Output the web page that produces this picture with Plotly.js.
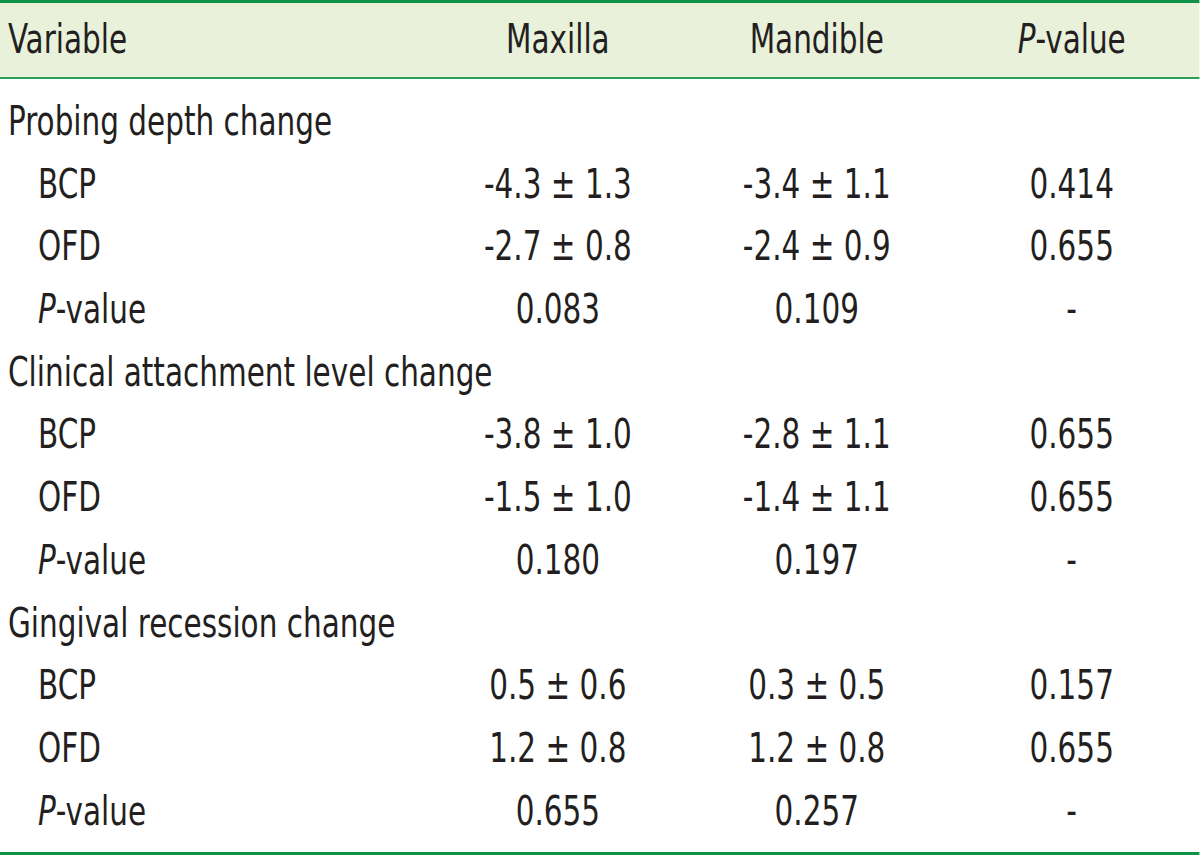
<!DOCTYPE html>
<html>
<head>
<meta charset="utf-8">
<script src="https://cdn.plot.ly/plotly-3.0.1.min.js"></script>
<style>
  html, body { margin: 0; padding: 0; background: #ffffff; overflow: hidden; }
  /* no narrow font installed: draw wider and squeeze horizontally */
  #table { width: 1463px; height: 856px; transform: scaleX(0.82); transform-origin: 0 0; }
</style>
</head>
<body>
<div id="table"></div>
<script>
const columnHeaders = ["Variable", "Maxilla", "Mandible", "<i>P</i>-value"];
const groupLabels = [
  "Probing depth change",
  "Clinical attachment level change",
  "Gingival recession change",
];
const subLabels = ["BCP", "OFD", "<i>P</i>-value"];
const maxillaValues = [
  ["-4.3 ± 1.3", "-2.7 ± 0.8", "0.083"],
  ["-3.8 ± 1.0", "-1.5 ± 1.0", "0.180"],
  ["0.5 ± 0.6", "1.2 ± 0.8", "0.655"],
];
const mandibleValues = [
  ["-3.4 ± 1.1", "-2.4 ± 0.9", "0.109"],
  ["-2.8 ± 1.1", "-1.4 ± 1.1", "0.197"],
  ["0.3 ± 0.5", "1.2 ± 0.8", "0.257"],
];
const pValues = [
  ["0.414", "0.655", "-"],
  ["0.655", "0.655", "-"],
  ["0.157", "0.655", "-"],
];

const FONT = "'Liberation Sans Narrow', 'Arial Narrow', 'DejaVu Sans Condensed', sans-serif";
const TEXT_COLOR = "#231f20";
const FONT_SIZE = 40;

// layout geometry (pixels of the final picture)
const HEADER_Y = 43;
const FIRST_ROW_Y = 125;
const ROW_STEP = 62.7;
const COL_X = { group: 8, sub: 38, maxilla: 558, mandible: 817, p: 1072 };

function rowY(index) {
  return FIRST_ROW_Y + index * ROW_STEP;
}

const labelX = [];
const labelY = [];
const labelText = [];
const cellX = [];
const cellY = [];
const cellText = [];

let row = 0;
groupLabels.forEach((group, g) => {
  labelX.push(COL_X.group);
  labelY.push(rowY(row));
  labelText.push(group);
  row += 1;
  subLabels.forEach((sub, s) => {
    labelX.push(COL_X.sub);
    labelY.push(rowY(row));
    labelText.push(sub);
    [
      [COL_X.maxilla, maxillaValues[g][s]],
      [COL_X.mandible, mandibleValues[g][s]],
      [COL_X.p, pValues[g][s]],
    ].forEach(([x, text]) => {
      cellX.push(x);
      cellY.push(rowY(row));
      cellText.push(text);
    });
    row += 1;
  });
});

const headerTrace = {
  type: "scatter",
  mode: "text",
  x: [COL_X.group, COL_X.maxilla, COL_X.mandible, COL_X.p],
  y: columnHeaders.map(() => HEADER_Y),
  text: columnHeaders,
  textposition: ["middle right", "middle center", "middle center", "middle center"],
  textfont: { family: FONT, size: FONT_SIZE, color: TEXT_COLOR },
  hoverinfo: "skip",
  showlegend: false,
};

const labelTrace = {
  type: "scatter",
  mode: "text",
  x: labelX,
  y: labelY,
  text: labelText,
  textposition: "middle right",
  textfont: { family: FONT, size: FONT_SIZE, color: TEXT_COLOR },
  hoverinfo: "skip",
  showlegend: false,
};

const cellTrace = {
  type: "scatter",
  mode: "text",
  x: cellX,
  y: cellY,
  text: cellText,
  textposition: "middle center",
  textfont: { family: FONT, size: FONT_SIZE, color: TEXT_COLOR },
  hoverinfo: "skip",
  showlegend: false,
};

const hiddenAxis = {
  visible: false,
  showgrid: false,
  zeroline: false,
  fixedrange: true,
};

const layout = {
  width: 1463,
  height: 856,
  margin: { l: 0, r: 0, t: 0, b: 0 },
  paper_bgcolor: "#ffffff",
  plot_bgcolor: "#ffffff",
  xaxis: { ...hiddenAxis, range: [0, 1200] },
  yaxis: { ...hiddenAxis, range: [856, 0] },
  shapes: [
    {
      type: "rect", xref: "x", yref: "y",
      x0: 0, x1: 1200, y0: 2, y1: 78,
      fillcolor: "#e9f1db", line: { width: 0 }, layer: "below",
    },
    {
      type: "line", xref: "x", yref: "y",
      x0: 0, x1: 1200, y0: 1.5, y1: 1.5,
      line: { color: "#0f9146", width: 3 },
    },
    {
      type: "line", xref: "x", yref: "y",
      x0: 0, x1: 1200, y0: 78, y1: 78,
      line: { color: "#2a9f55", width: 2 },
    },
    {
      type: "line", xref: "x", yref: "y",
      x0: 0, x1: 1200, y0: 853.5, y1: 853.5,
      line: { color: "#0f9146", width: 3 },
    },
  ],
};

Plotly.newPlot("table", [headerTrace, labelTrace, cellTrace], layout, {
  staticPlot: true,
  displayModeBar: false,
});
</script>
</body>
</html>
